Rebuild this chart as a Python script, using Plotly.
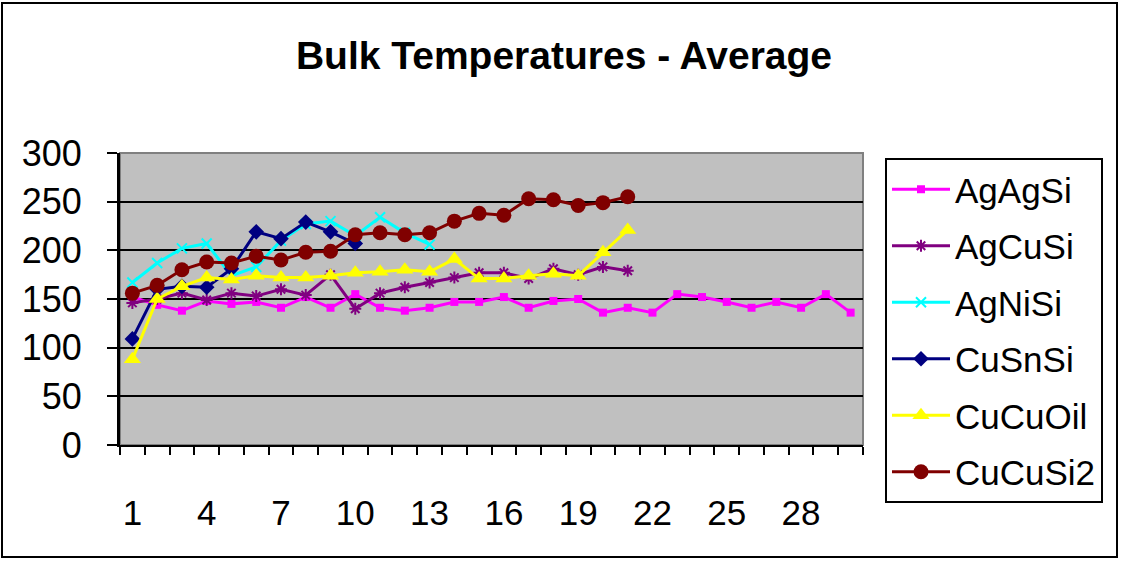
import plotly.graph_objects as go

x_cats = list(range(1, 31))
x_tick_labels = [1, 4, 7, 10, 13, 16, 19, 22, 25, 28]
y_ticks = [0, 50, 100, 150, 200, 250, 300]

ag_ag_si = [152, 144, 138, 148, 145, 147, 141, 152, 141, 155,
            141, 138, 141, 147, 147, 152, 141, 148, 150, 136,
            141, 136, 155, 152, 147, 141, 147, 141, 155, 136]
ag_cu_si = [146, 150, 156, 149, 156, 153, 160, 154, 175, 140,
            156, 162, 167, 172, 177, 177, 171, 181, 175, 183, 179]
ag_ni_si = [167, 187, 202, 207, 174, 183, 210, 227, 230, 215,
            234, 218, 206]
cu_sn_si = [109, 160, 163, 162, 181, 219, 212, 229, 219, 207]
cu_cu_oil = [88, 150, 163, 172, 170, 174, 172, 172, 174, 177,
             178, 180, 178, 191, 171, 171, 174, 176, 174, 198, 221]
cu_cu_si2 = [156, 164, 180, 188, 187, 194, 190, 198, 199, 216,
             218, 216, 218, 230, 238, 236, 253, 252, 246, 249, 255]

series = [
    ("AgAgSi", ag_ag_si, "#FF00FF", "square", 8),
    ("AgCuSi", ag_cu_si, "#800080", "asterisk-open", 10),
    ("AgNiSi", ag_ni_si, "#00FFFF", "x-thin-open", 10),
    ("CuSnSi", cu_sn_si, "#000080", "diamond", 12),
    ("CuCuOil", cu_cu_oil, "#FFFF00", "triangle-up", 15),
    ("CuCuSi2", cu_cu_si2, "#800000", "circle", 15),
]

FONT = "Liberation Sans, Arial, sans-serif"

fig = go.Figure()
for name, vals, color, symbol, size in series:
    open_sym = symbol.endswith("-open")
    fig.add_trace(go.Scatter(
        x=x_cats[:len(vals)], y=vals, name=name, mode="lines+markers",
        legendgroup=name,
        line=dict(color=color, width=3),
        marker=dict(symbol=symbol, size=size, color=color,
                    line=dict(color=color, width=2 if open_sym else 0)),
    ))

W, H = 1121, 561
L, R, T, B = 120, 258, 153, 116
pw, ph = W - L - R, H - T - B

def px_x(x):
    return (x - L) / pw

def px_y(y):
    return (H - B - y) / ph

fig.update_layout(
    width=W, height=H,
    margin=dict(l=L, r=R, t=T, b=B),
    paper_bgcolor="white", plot_bgcolor="#C0C0C0",
    font=dict(family=FONT, color="black", size=34),
    title=dict(text="Bulk Temperatures - Average", x=(298 + 830) / 2 / W,
               xanchor="center", y=1 - 55 / H, yanchor="middle",
               font=dict(family=FONT, size=39, weight="bold", color="black")),
    showlegend=True,
    legend=dict(x=px_x(885), y=px_y(158), xanchor="left", yanchor="top",
                bordercolor="black", borderwidth=2, bgcolor="white",
                font=dict(family=FONT, size=35), tracegroupgap=8,
                itemwidth=58, maxheight=420),
    xaxis=dict(range=[0.5, 30.5], tickmode="array", tickvals=x_tick_labels,
               ticktext=[str(v) for v in x_tick_labels], ticks="",
               showgrid=False, zeroline=False, showline=True,
               linecolor="black", linewidth=2, ticklabelstandoff=36,
               tickfont=dict(size=35),
               minor=dict(tick0=0.5, dtick=1, ticks="outside", ticklen=8,
                          tickwidth=2, tickcolor="black", showgrid=False)),
    yaxis=dict(range=[0, 300], tickmode="array", tickvals=y_ticks,
               ticks="outside", ticklen=10, tickwidth=2, tickcolor="black",
               showgrid=True, gridcolor="black", gridwidth=1.5,
               zeroline=False, showline=True, linecolor="black", linewidth=3,
               ticklabelstandoff=18, tickfont=dict(size=36)),
    shapes=[
        dict(type="rect", xref="paper", yref="paper", x0=0, x1=1, y0=0, y1=1,
             line=dict(color="#808080", width=2), layer="below"),
        dict(type="rect", xref="paper", yref="paper",
             x0=px_x(2), x1=px_x(1117), y0=px_y(557), y1=px_y(3),
             line=dict(color="black", width=2)),
    ],
)

fig.write_html("out.html",
               config={"displayModeBar": False},
               post_script="document.body.style.margin='0';document.body.style.overflow='hidden';")
